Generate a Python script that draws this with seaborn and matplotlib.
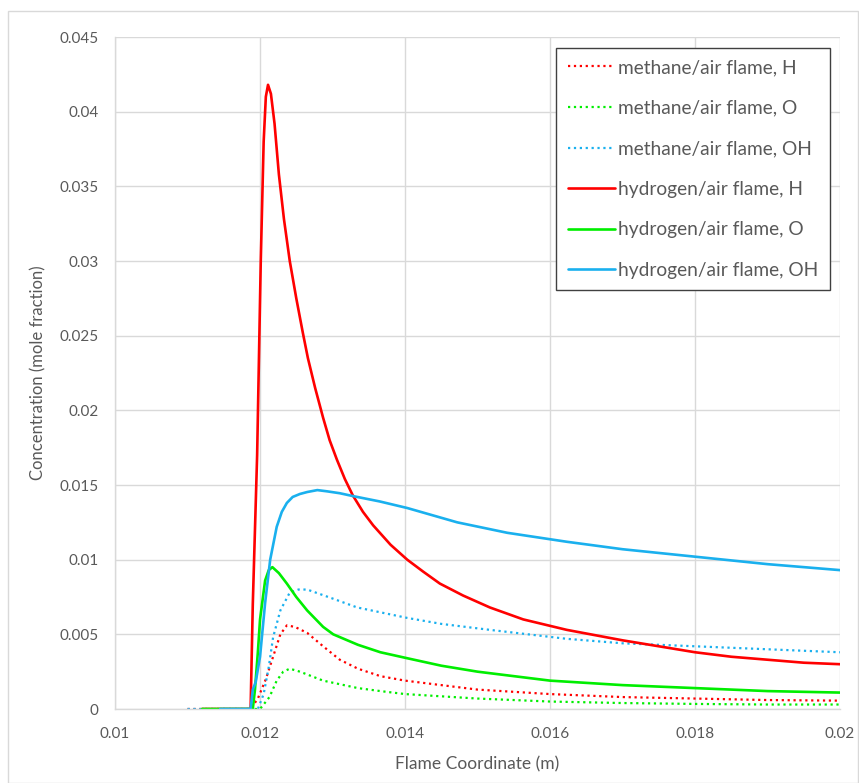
import matplotlib
matplotlib.use("Agg")
from matplotlib import pyplot as plt
from matplotlib.patches import Rectangle
from matplotlib.ticker import FuncFormatter, MultipleLocator
import pandas as pd
import seaborn as sns

# Valeurs (coordonnee de flamme en m, fraction molaire)
h2_H_x = [0.0112, 0.01187, 0.0119, 0.01196, 0.01201, 0.01205, 0.01208, 0.01211, 0.01215,
          0.0122, 0.01226, 0.01233, 0.01241, 0.0125, 0.01259, 0.01266, 0.01276, 0.01287,
          0.01296, 0.01306, 0.01317, 0.01328, 0.01342, 0.01356, 0.0138, 0.01403, 0.01425,
          0.01448, 0.0148, 0.01517, 0.01563, 0.01623, 0.0170, 0.0175, 0.0180, 0.0185,
          0.0190, 0.0195, 0.0200]
h2_H_y = [0.0, 0.0, 0.007, 0.017, 0.030, 0.038, 0.041, 0.0418, 0.0412,
          0.0392, 0.0358, 0.0328, 0.0300, 0.0275, 0.0252, 0.0235, 0.0215, 0.0195,
          0.0180, 0.0167, 0.0154, 0.0143, 0.0132, 0.0123, 0.0110, 0.0100, 0.0092,
          0.0084, 0.0076, 0.0068, 0.0060, 0.0053, 0.0046, 0.0042, 0.0038, 0.0035,
          0.0033, 0.0031, 0.0030]

h2_O_x = [0.0112, 0.0119, 0.01193, 0.01197, 0.0120, 0.01207, 0.01212, 0.01217, 0.01226,
          0.01237, 0.0125, 0.01265, 0.01287, 0.01301, 0.01335, 0.01366, 0.01403, 0.0145,
          0.0150, 0.0155, 0.0160, 0.0170, 0.0180, 0.0190, 0.0200]
h2_O_y = [0.0, 0.0, 0.0013, 0.0038, 0.0060, 0.0086, 0.0093, 0.0095, 0.0091,
          0.0084, 0.0075, 0.0066, 0.0055, 0.0050, 0.0043, 0.0038, 0.0034, 0.0029,
          0.0025, 0.0022, 0.0019, 0.0016, 0.0014, 0.0012, 0.0011]

h2_OH_x = [0.01145, 0.01187, 0.0119, 0.01194, 0.0120, 0.01207, 0.01214, 0.01223, 0.0123,
           0.01237, 0.01245, 0.01255, 0.01265, 0.01279, 0.01292, 0.01310, 0.01328, 0.01365,
           0.01403, 0.01472, 0.01541, 0.01623, 0.0170, 0.0180, 0.0190, 0.0200]
h2_OH_y = [0.0, 0.0, 0.0013, 0.0018, 0.0035, 0.0071, 0.0100, 0.0122, 0.0132,
           0.0138, 0.0142, 0.0144, 0.01453, 0.01466, 0.01458, 0.01445, 0.01426, 0.0139,
           0.01346, 0.0125, 0.0118, 0.0112, 0.0107, 0.0102, 0.0097, 0.0093]

ch4_H_x = [0.0110, 0.01187, 0.01197, 0.01208, 0.01218, 0.01228, 0.01237, 0.01248, 0.01265,
           0.01287, 0.0131, 0.01335, 0.01366, 0.0140, 0.0145, 0.0150, 0.0160, 0.0170,
           0.0180, 0.0190, 0.0200]
ch4_H_y = [0.0, 0.0, 0.0007, 0.0020, 0.0035, 0.0050, 0.0056, 0.0055, 0.0051,
           0.0042, 0.0033, 0.0027, 0.0022, 0.0019, 0.0016, 0.0013, 0.0010, 0.0008,
           0.0007, 0.0006, 0.00056]

ch4_O_x = [0.0112, 0.0120, 0.01213, 0.01223, 0.01232, 0.01241, 0.01255, 0.01287, 0.01335,
           0.01366, 0.0140, 0.0150, 0.0160, 0.0170, 0.0180, 0.0190, 0.0200]
ch4_O_y = [0.0, 0.0, 0.0008, 0.0019, 0.0025, 0.0027, 0.0025, 0.0019, 0.0014,
           0.0012, 0.0010, 0.0007, 0.0005, 0.0004, 0.00034, 0.0003, 0.0003]

ch4_OH_x = [0.0110, 0.01197, 0.01205, 0.01212, 0.01218, 0.01228, 0.01241, 0.01253, 0.01265,
            0.0130, 0.01334, 0.01403, 0.0145, 0.01517, 0.01623, 0.0170, 0.0180, 0.0190,
            0.0200]
ch4_OH_y = [0.0, 0.0, 0.0010, 0.0028, 0.0048, 0.0066, 0.0078, 0.0080, 0.0080,
            0.0074, 0.0068, 0.0061, 0.0057, 0.0053, 0.0047, 0.0044, 0.0042, 0.0040,
            0.0038]

RED = "#ff0000"
GREEN = "#00ee00"
BLUE = "#1ab0ee"
GRIS = "#595959"

series = [
    ("methane/air flame, H", ch4_H_x, ch4_H_y, RED, ":"),
    ("methane/air flame, O", ch4_O_x, ch4_O_y, GREEN, ":"),
    ("methane/air flame, OH", ch4_OH_x, ch4_OH_y, BLUE, ":"),
    ("hydrogen/air flame, H", h2_H_x, h2_H_y, RED, "-"),
    ("hydrogen/air flame, O", h2_O_x, h2_O_y, GREEN, "-"),
    ("hydrogen/air flame, OH", h2_OH_x, h2_OH_y, BLUE, "-"),
]

sns.set_theme(style="whitegrid", rc={"grid.color": "#d9d9d9", "grid.linewidth": 1.0})
plt.rcParams["font.family"] = ["Lato", "DejaVu Sans"]

fig = plt.figure(figsize=(8.59, 7.83), dpi=100)
ax = fig.add_axes([0.1339, 0.0945, 0.978 - 0.1339, 0.9527 - 0.0945])

# Cadre exterieur du graphique (style tableur)
fig.patches.append(Rectangle((8 / 859, 0.0), 850 / 859, 1 - 11 / 783,
                             transform=fig.transFigure, fill=False,
                             edgecolor="#d9d9d9", linewidth=1.0))

for label, xs, ys, color, ls in series:
    df = pd.DataFrame({"x": xs, "y": ys})
    lw = 1.6 if ls == ":" else 1.9
    sns.lineplot(data=df, x="x", y="y", ax=ax, color=color, linestyle=ls,
                 linewidth=lw, label=label, sort=False)

ax.set_xlim(0.01, 0.02)
ax.set_ylim(0, 0.045)
ax.xaxis.set_major_locator(MultipleLocator(0.002))
ax.yaxis.set_major_locator(MultipleLocator(0.005))
fmt = FuncFormatter(lambda v, pos: f"{round(v, 6):g}")
ax.xaxis.set_major_formatter(fmt)
ax.yaxis.set_major_formatter(fmt)
ax.tick_params(axis="both", length=0, labelsize=11, labelcolor=GRIS)
ax.tick_params(axis="y", pad=12)
ax.tick_params(axis="x", pad=13)

for side in ["top", "right"]:
    ax.spines[side].set_visible(False)
for side in ["left", "bottom"]:
    ax.spines[side].set_color("#d9d9d9")
    ax.spines[side].set_linewidth(1.0)

ax.set_xlabel("Flame Coordinate (m)", fontsize=12.5, color=GRIS, labelpad=11)
ax.set_ylabel("Concentration (mole fraction)", fontsize=12, color=GRIS, labelpad=9)

leg = ax.legend(loc="upper right", fontsize=13.8, frameon=True, fancybox=False,
                framealpha=1, edgecolor="#404040", labelspacing=1.23,
                handlelength=2.45, handletextpad=0.15, borderpad=0.6,
                borderaxespad=0.55)
leg.get_frame().set_linewidth(1.0)
for t in leg.get_texts():
    t.set_color(GRIS)

plt.savefig("out.png", dpi=100)
